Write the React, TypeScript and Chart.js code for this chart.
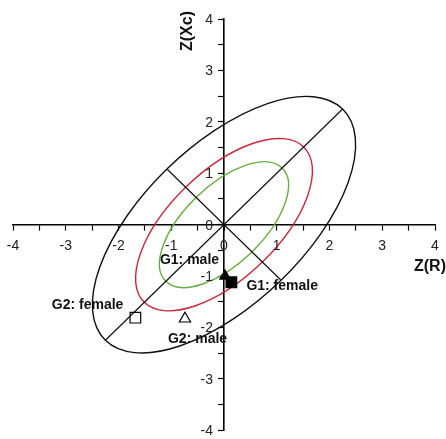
import React, { useEffect, useRef } from "react";
import { Chart, registerables } from "chart.js";

Chart.register(...registerables);

// ---- data ----
const AXIS_MIN = -4;
const AXIS_MAX = 4;
const TICK_STEP = 0.5;

const groupNames = ["G1: male", "G1: female", "G2: male", "G2: female"];
const groupX = [0.02, 0.14, -0.74, -1.68];
const groupY = [-1.0, -1.12, -1.83, -1.81];

// confidence ellipses (centred at origin, tilted 45°)
const ellipseNames = ["outer", "middle", "inner"];
const ellipseScale = [1, 0.672, 0.49];
const SEMI_MAJOR = 3.18;
const SEMI_MINOR = 1.53;

const X_TITLE = "Z(R)";
const Y_TITLE = "Z(Xc)";

// ---- styles ----
const FONT = "'Liberation Sans', Arial, sans-serif";
const TICK_FONT = `14px ${FONT}`;
const ellipseColors = ["#111111", "#c8283c", "#66ad42"];
const pointStyles = ["triangle", "rect", "triangle", "rect"];
const pointFill = ["#000000", "#000000", "#ffffff", "#ffffff"];
const pointRadius = [6, 7.5, 6.5, 7.5];
const labelOffsets: [number, number, CanvasTextAlign][] = [
  [-6, -16, "right"],
  [15, 4, "left"],
  [-17, 20, "left"],
  [-12, -13, "right"],
];

const majorEnd = SEMI_MAJOR / Math.SQRT2;
const minorEnd = SEMI_MINOR / Math.SQRT2;

const ellipsePlugin = {
  id: "ellipses",
  beforeDatasetsDraw(chart: any) {
    const { ctx, scales } = chart;
    const xs = scales.x;
    const ys = scales.y;
    const x0 = xs.getPixelForValue(0);
    const y0 = ys.getPixelForValue(0);
    const sx = xs.getPixelForValue(1) - x0;
    const sy = ys.getPixelForValue(1) - y0;
    ellipseScale.forEach((k, i) => {
      ctx.save();
      ctx.beginPath();
      ctx.translate(x0, y0);
      ctx.scale(sx, sy);
      ctx.rotate(Math.PI / 4);
      ctx.ellipse(0, 0, SEMI_MAJOR * k, SEMI_MINOR * k, 0, 0, Math.PI * 2);
      ctx.restore();
      ctx.save();
      ctx.strokeStyle = ellipseColors[i];
      ctx.lineWidth = 1.4;
      ctx.stroke();
      ctx.restore();
    });
  },
};

const textPlugin = {
  id: "texts",
  afterDatasetsDraw(chart: any) {
    const { ctx, scales } = chart;
    const xs = scales.x;
    const ys = scales.y;
    const x0 = xs.getPixelForValue(0);
    const y0 = ys.getPixelForValue(0);
    ctx.save();
    ctx.fillStyle = "#222";
    ctx.font = TICK_FONT;
    ctx.textBaseline = "middle";
    // y tick labels (left of the centred axis)
    ctx.textAlign = "right";
    ys.ticks.forEach((t: any) => {
      if (Number.isInteger(t.value)) {
        ctx.fillText(String(t.value), x0 - 11, ys.getPixelForValue(t.value) + 1);
      }
    });
    // x tick labels (below the centred axis)
    ctx.textAlign = "center";
    xs.ticks.forEach((t: any) => {
      if (Number.isInteger(t.value)) {
        ctx.fillText(String(t.value), xs.getPixelForValue(t.value), y0 + 21);
      }
    });
    // group labels
    ctx.fillStyle = "#111";
    ctx.font = `bold 14px ${FONT}`;
    groupNames.forEach((name, i) => {
      const px = xs.getPixelForValue(groupX[i]);
      const py = ys.getPixelForValue(groupY[i]);
      const [dx, dy, align] = labelOffsets[i];
      ctx.textAlign = align;
      ctx.fillText(name, px + dx, py + dy);
    });
    // axis titles
    ctx.font = `bold 16px ${FONT}`;
    ctx.textAlign = "right";
    ctx.fillText(X_TITLE, xs.right + 11, y0 + 42);
    ctx.save();
    ctx.translate(x0 - 36, ys.top + 12);
    ctx.rotate(-Math.PI / 2);
    ctx.textAlign = "center";
    ctx.fillText(Y_TITLE, 0, 0);
    ctx.restore();
    ctx.restore();
  },
};

export default function App() {
  const ref = useRef<HTMLCanvasElement>(null);
  useEffect(() => {
    if (!ref.current) return;
    const axisGrid = {
      drawOnChartArea: false,
      drawTicks: true,
      tickLength: 5,
      tickColor: "#000",
      tickWidth: 1.2,
    };
    const chart = new Chart(ref.current, {
      type: "scatter",
      data: {
        datasets: [
          {
            label: "major axis",
            data: [
              { x: -majorEnd, y: -majorEnd },
              { x: majorEnd, y: majorEnd },
            ],
            showLine: true,
            borderColor: "#111",
            borderWidth: 1.2,
            pointRadius: 0,
          },
          {
            label: "minor axis",
            data: [
              { x: -minorEnd, y: minorEnd },
              { x: minorEnd, y: -minorEnd },
            ],
            showLine: true,
            borderColor: "#111",
            borderWidth: 1.2,
            pointRadius: 0,
          },
          ...groupNames.map((name, i) => ({
            label: name,
            data: [{ x: groupX[i], y: groupY[i] }],
            pointStyle: pointStyles[i] as any,
            pointRadius: pointRadius[i],
            backgroundColor: pointFill[i],
            borderColor: "#000",
            borderWidth: 1.2,
          })),
        ],
      },
      options: {
        responsive: false,
        animation: false,
        layout: { padding: { left: 13, right: 11, top: 19, bottom: 7 } },
        plugins: { legend: { display: false }, tooltip: { enabled: false } },
        scales: {
          x: {
            type: "linear",
            min: AXIS_MIN,
            max: AXIS_MAX,
            position: { y: 0 } as any,
            border: { color: "#000", width: 1.6 },
            grid: axisGrid,
            ticks: { display: false, stepSize: TICK_STEP, autoSkip: false },
          },
          y: {
            type: "linear",
            min: AXIS_MIN,
            max: AXIS_MAX,
            position: { x: 0 } as any,
            border: { color: "#000", width: 1.6 },
            grid: axisGrid,
            ticks: { display: false, stepSize: TICK_STEP, autoSkip: false },
          },
        },
      },
      plugins: [ellipsePlugin, textPlugin],
    });
    return () => chart.destroy();
  }, []);
  return (
    <div style={{ position: "fixed", left: 0, top: 0, width: 446, height: 439, background: "#fff" }}>
      <canvas ref={ref} width={446} height={439} style={{ display: "block" }} />
    </div>
  );
}
